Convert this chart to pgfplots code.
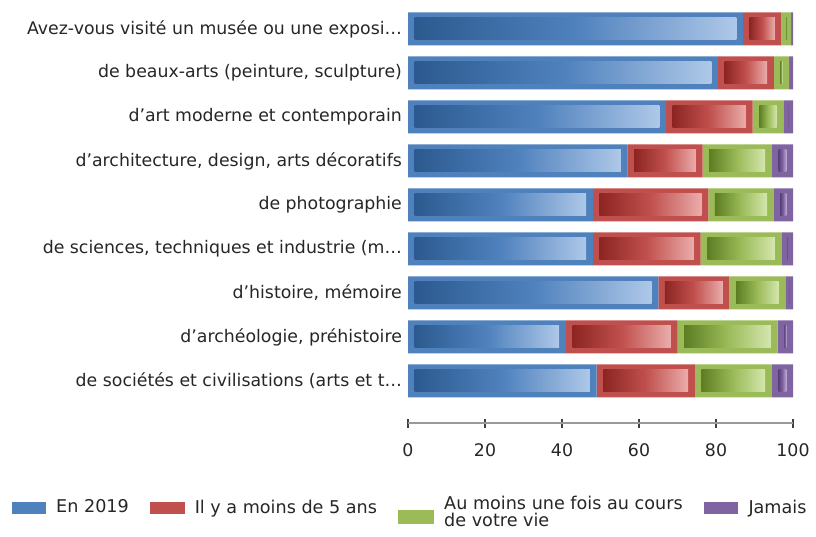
\documentclass[border=0pt]{standalone}
\usepackage{pgfplots}
\pgfplotsset{compat=1.18}
\usepackage{fontspec}
\setmainfont{DejaVu Sans}

\definecolor{bluebase}{HTML}{4F81BD}
\definecolor{bluedark}{HTML}{2C5A8F}
\definecolor{bluelight}{HTML}{AEC8E8}
\definecolor{redbase}{HTML}{C0504D}
\definecolor{reddark}{HTML}{8C2522}
\definecolor{redlight}{HTML}{EAADAB}
\definecolor{greenbase}{HTML}{9BBB59}
\definecolor{greendark}{HTML}{5C7D22}
\definecolor{greenlight}{HTML}{D4E6AE}
\definecolor{purplebase}{HTML}{8064A2}
\definecolor{purpledark}{HTML}{5A4279}
\definecolor{purplelight}{HTML}{BCAAD4}

% solid outer bar + shaded inner box (node near coords sits mid-segment)
\pgfplotsset{
  inner grad/.style n args={3}{
    fill=#2, draw=none,
    visualization depends on={rawx \as \segw},
    nodes near coords={\relax},
    every node near coord/.append style={
      anchor=center, inner sep=0pt, outer sep=0pt,
      minimum height=16.5pt,
      minimum width={max(\segw*2.8875-10,0.4)},
      left color=#1, right color=#3, middle color=#2,
    },
  },
}

\begin{document}
\begin{tikzpicture}[x=1pt,y=1pt]
\path (0,0) rectangle (612,402);
\begin{axis}[
  at={(306pt,84.75pt)}, anchor=south west,
  scale only axis, width=288.75pt, height=308.7pt,
  xbar stacked, bar width=24.75pt,
  xmin=0, xmax=100, ymin=-0.955, ymax=8.4,
  axis x line=bottom, axis y line*=left,
  x axis line style={-, draw=gray!80, line width=0.8pt},
  y axis line style={draw=none},
  xtick={0,20,...,100},
  tick align=center,
  major tick length=6.75pt,
  xtick style={draw=black!75, line width=1.2pt},
  ytick style={draw=none},
  ytick={0,1,2,3,4,5,6,7,8},
  yticklabels={
    {de sociétés et civilisations (arts et t…},
    {d’archéologie, préhistoire},
    {d’histoire, mémoire},
    {de sciences, techniques et industrie (m…},
    {de photographie},
    {d’architecture, design, arts décoratifs},
    {d’art moderne et contemporain},
    {de beaux-arts (peinture, sculpture)},
    {Avez-vous visité un musée ou une exposi…}},
  /pgf/number format/assume math mode=true,
  yticklabel style={font=\fontsize{13}{15}\selectfont, inner sep=0pt, xshift=-1pt, text=black!85},
  xticklabel style={font=\fontsize{13}{15}\selectfont, yshift=-8.5pt, text=black!85},
  legend style={at={(rel axis cs:-1.0404,-0.2065)}, anchor=west, draw=none, fill=none,
    font=\fontsize{13.2}{15}\selectfont, text=black!85,
    /tikz/every odd column/.append style={column sep=6pt},
    /tikz/every even column/.append style={column sep=14pt}},
  legend columns=4,
]
\addplot[inner grad={bluedark}{bluebase}{bluelight}, forget plot]
  coordinates {(49,0) (41,1) (65,2) (48,3) (48,4) (57,5) (67,6) (80.5,7) (87,8)};
\addplot[inner grad={reddark}{redbase}{redlight}, forget plot]
  coordinates {(25.5,0) (29,1) (18.5,2) (28,3) (30,4) (19.5,5) (22.5,6) (14.5,7) (10,8)};
\addplot[inner grad={greendark}{greenbase}{greenlight}, forget plot]
  coordinates {(20,0) (26,1) (14.5,2) (21,3) (17,4) (18,5) (8,6) (4,7) (2.5,8)};
\addplot[inner grad={purpledark}{purplebase}{purplelight}, forget plot]
  coordinates {(5.5,0) (4,1) (2,2) (3,3) (5,4) (5.5,5) (2.5,6) (1,7) (0.5,8)};

\addlegendimage{legend image code/.code={\fill[bluebase] (0pt,-4.2pt) rectangle (25pt,4.2pt);}}
\addlegendentry{En 2019}
\addlegendimage{legend image code/.code={\fill[redbase] (0pt,-4.2pt) rectangle (25pt,4.2pt);}}
\addlegendentry{Il y a moins de 5 ans}
\addlegendimage{legend image code/.code={\fill[greenbase] (0pt,-12pt) rectangle (26pt,-2pt);}}
\addlegendentry{\begin{tabular}{@{}l@{}}Au moins une fois au cours\\[-2pt]de votre vie\end{tabular}}
\addlegendimage{legend image code/.code={\fill[purplebase] (0pt,-4.2pt) rectangle (25pt,4.2pt);}}
\addlegendentry{Jamais}
\end{axis}
\end{tikzpicture}
\end{document}
